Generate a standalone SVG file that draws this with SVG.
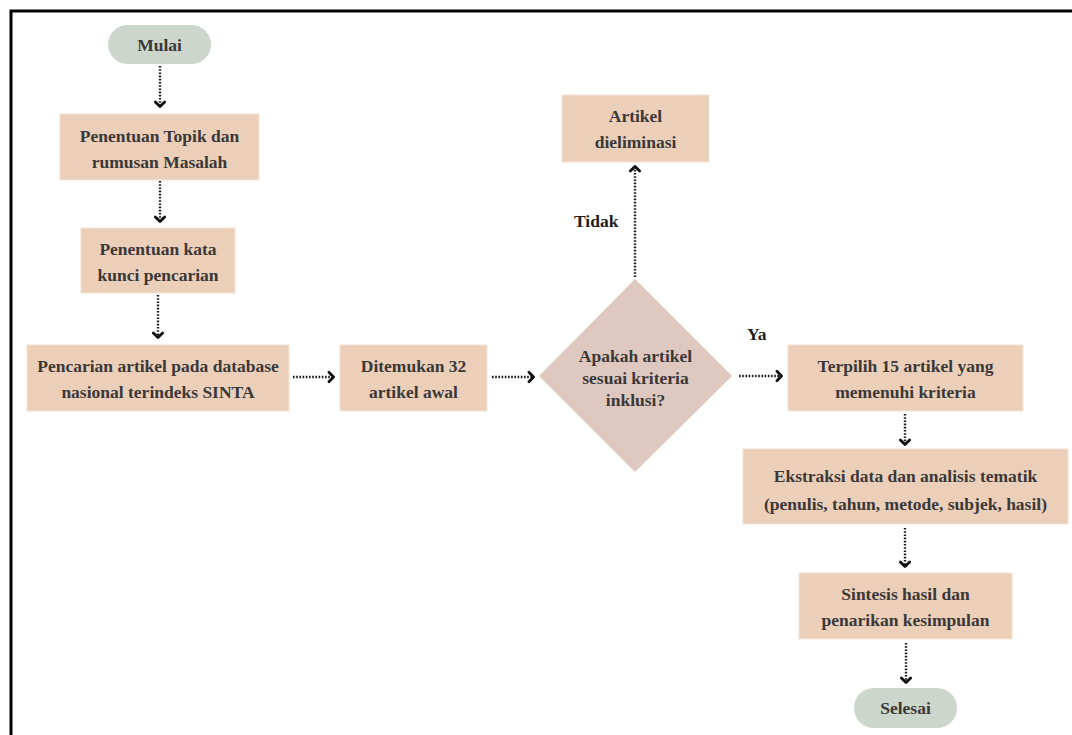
<svg xmlns="http://www.w3.org/2000/svg" width="1072" height="735" viewBox="0 0 1072 735">
<defs>
<style>
.box{fill:#eccfb9;stroke:#f3e2d4;stroke-width:1}
.pill{fill:#cdd6cc}
.dia{fill:#dfc8bf}
.t{font-family:"Liberation Serif",serif;font-weight:bold;font-size:17.5px;fill:#3b3838;text-anchor:middle}
.lbl{font-family:"Liberation Serif",serif;font-weight:bold;font-size:17.5px;fill:#1e1e1e}
.c{fill:none;stroke:#1a1a1a;stroke-width:2.4;stroke-dasharray:1.6 1.6}
</style>
<marker id="ah" markerUnits="userSpaceOnUse" markerWidth="14" markerHeight="14" refX="6" refY="6" orient="auto" viewBox="0 0 12 12">
<path d="M2.5,2 L6.5,6 L2.5,10" fill="none" stroke="#111" stroke-width="2.4" stroke-linecap="round" stroke-linejoin="round"/>
</marker>
</defs>
<rect width="1072" height="735" fill="#fff"/>
<path d="M11,740 V11 H1080" fill="none" stroke="#000" stroke-width="3"/>
<g id="connectors">
<path class="c" d="M160,66 V106" marker-end="url(#ah)"/>
<path class="c" d="M160,181 V221" marker-end="url(#ah)"/>
<path class="c" d="M158,295 V337" marker-end="url(#ah)"/>
<path class="c" d="M293,377 H333" marker-end="url(#ah)"/>
<path class="c" d="M492,377 H533" marker-end="url(#ah)"/>
<path class="c" d="M635,277 V167" marker-end="url(#ah)"/>
<path class="c" d="M739,376 H781" marker-end="url(#ah)"/>
<path class="c" d="M905,414 V444" marker-end="url(#ah)"/>
<path class="c" d="M905,528 V566" marker-end="url(#ah)"/>
<path class="c" d="M906,643 V682" marker-end="url(#ah)"/>
</g>
<g id="mulai"><rect class="pill" x="108" y="25" width="103" height="39" rx="19.5"/><text class="t" x="159.5" y="50.5">Mulai</text></g>
<g id="topik"><rect class="box" x="60" y="114" width="199" height="66"/><text class="t" x="159.5" y="141.5">Penentuan Topik dan</text><text class="t" x="159.5" y="167.5">rumusan Masalah</text></g>
<g id="katakunci"><rect class="box" x="81" y="228" width="154" height="65"/><text class="t" x="158" y="254.5">Penentuan kata</text><text class="t" x="158" y="280.5">kunci pencarian</text></g>
<g id="pencarian"><rect class="box" x="27" y="345" width="262" height="66"/><text class="t" x="158" y="371.5">Pencarian artikel pada database</text><text class="t" x="158" y="397.5">nasional terindeks SINTA</text></g>
<g id="ditemukan"><rect class="box" x="340" y="345" width="147" height="66"/><text class="t" x="413.5" y="371.5">Ditemukan 32</text><text class="t" x="413.5" y="397.5">artikel awal</text></g>
<g id="kriteria"><polygon class="dia" points="635,279 732,376 635,472 539,376"/><text class="t" x="635.5" y="362">Apakah artikel</text><text class="t" x="635.5" y="384">sesuai kriteria</text><text class="t" x="635.5" y="406">inklusi?</text></g>
<g id="eliminasi"><rect class="box" x="562" y="95" width="147" height="67"/><text class="t" x="635.5" y="122">Artikel</text><text class="t" x="635.5" y="148">dieliminasi</text></g>
<text class="lbl" x="574" y="227">Tidak</text>
<text class="lbl" x="747" y="340">Ya</text>
<g id="terpilih"><rect class="box" x="788" y="345" width="235" height="66"/><text class="t" x="905.5" y="372">Terpilih 15 artikel yang</text><text class="t" x="905.5" y="398">memenuhi kriteria</text></g>
<g id="ekstraksi"><rect class="box" x="743" y="449" width="325" height="75"/><text class="t" x="905.5" y="482">Ekstraksi data dan analisis tematik</text><text class="t" x="905.5" y="510">(penulis, tahun, metode, subjek, hasil)</text></g>
<g id="sintesis"><rect class="box" x="799" y="573" width="213" height="66"/><text class="t" x="905.5" y="599.5">Sintesis hasil dan</text><text class="t" x="905.5" y="626">penarikan kesimpulan</text></g>
<g id="selesai"><rect class="pill" x="854" y="688" width="103" height="40" rx="20"/><text class="t" x="905.5" y="714">Selesai</text></g>
</svg>
